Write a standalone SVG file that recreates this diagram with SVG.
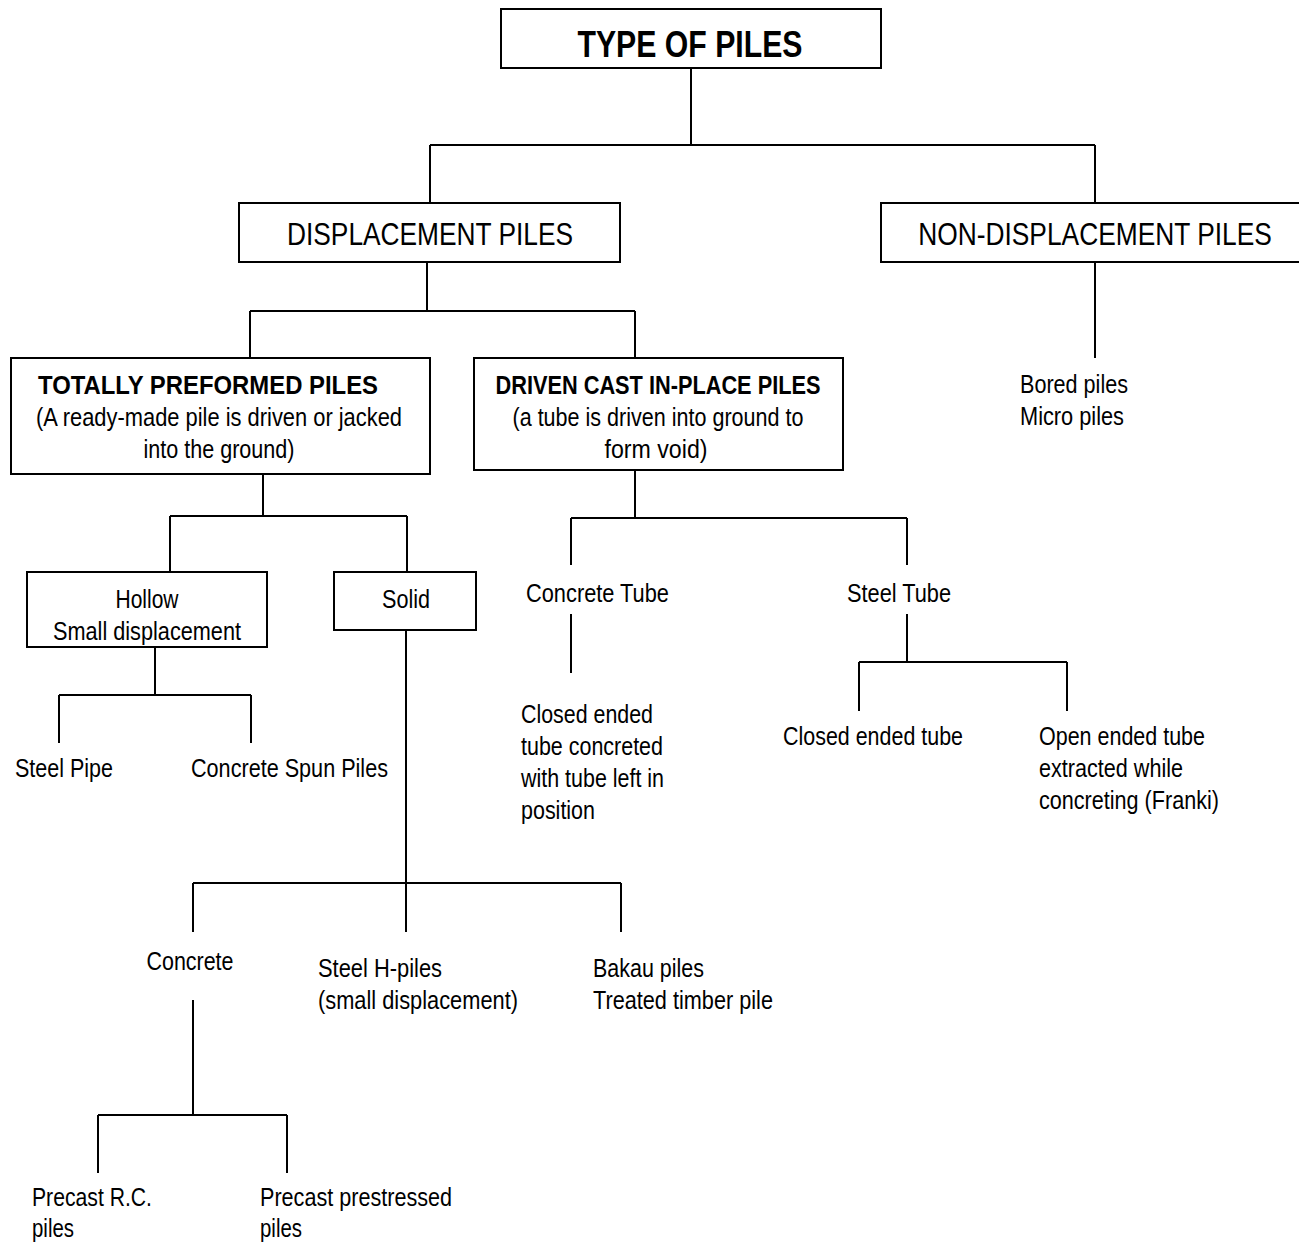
<svg xmlns="http://www.w3.org/2000/svg" width="1299" height="1248" viewBox="0 0 1299 1248">
<style>
.box{fill:#fff;stroke:#000;stroke-width:2}
.ln{stroke:#000;stroke-width:2;fill:none}
text{font-family:"Liberation Sans",Arial,sans-serif;fill:#000}
.t{font-size:25px}
.h{font-size:31px}
.b{font-size:25px;font-weight:bold}
.c{text-anchor:middle}
</style>
<rect width="1299" height="1248" fill="#fff"/>
<g id="connectors">
<path class="ln" d="M691 68V145M430 145H1095M430 145V203M1095 145V203"/>
<path class="ln" d="M427 262V311M250 311H635M250 311V358M635 311V358"/>
<path class="ln" d="M1095 262V358"/>
<path class="ln" d="M263 474V516M170 516H407M170 516V572M407 516V572"/>
<path class="ln" d="M155 647V695M59 695H251M59 695V743M251 695V743"/>
<path class="ln" d="M406 630V883M193 883H621M193 883V932M406 883V932M621 883V932"/>
<path class="ln" d="M193 1000V1115M98 1115H287M98 1115V1173M287 1115V1173"/>
<path class="ln" d="M635 470V518M571 518H907M571 518V565M907 518V565"/>
<path class="ln" d="M571 614V673"/>
<path class="ln" d="M907 614V662M859 662H1067M859 662V711M1067 662V711"/>
</g>
<g id="type-of-piles"><rect class="box" x="501" y="9" width="380" height="59"/><text class="c" x="690" y="57" style="font-size:37px;font-weight:bold" textLength="225" lengthAdjust="spacingAndGlyphs">TYPE OF PILES</text></g>
<g id="displacement"><rect class="box" x="239" y="203" width="381" height="59"/><text class="h c" x="430" y="245" textLength="286" lengthAdjust="spacingAndGlyphs">DISPLACEMENT PILES</text></g>
<g id="non-displacement"><rect class="box" x="881" y="203" width="440" height="59"/><text class="h c" transform="translate(1095,245) scale(0.85,1)" x="0" y="0">NON-DISPLACEMENT PILES</text></g>
<g id="totally-preformed"><rect class="box" x="11" y="358" width="419" height="116"/>
<text class="b c" x="208" y="394" textLength="340" lengthAdjust="spacingAndGlyphs">TOTALLY PREFORMED PILES</text>
<text class="t c" x="219" y="426" textLength="366" lengthAdjust="spacingAndGlyphs">(A ready-made pile is driven or jacked</text>
<text class="t c" x="219" y="458" textLength="151" lengthAdjust="spacingAndGlyphs">into the ground)</text></g>
<g id="driven-cast"><rect class="box" x="474" y="358" width="369" height="112"/>
<text class="b c" x="658" y="394" textLength="325" lengthAdjust="spacingAndGlyphs">DRIVEN CAST IN-PLACE PILES</text>
<text class="t c" x="658" y="426" textLength="291" lengthAdjust="spacingAndGlyphs">(a tube is driven into ground to</text>
<text class="t c" x="656" y="458" textLength="103" lengthAdjust="spacingAndGlyphs">form void)</text></g>
<g id="bored"><text class="t" x="1020" y="393" textLength="108" lengthAdjust="spacingAndGlyphs">Bored piles</text><text class="t" x="1020" y="425" textLength="104" lengthAdjust="spacingAndGlyphs">Micro piles</text></g>
<g id="hollow"><rect class="box" x="27" y="572" width="240" height="75"/>
<text class="t c" x="147" y="608" textLength="63" lengthAdjust="spacingAndGlyphs">Hollow</text><text class="t c" x="147" y="640" textLength="188" lengthAdjust="spacingAndGlyphs">Small displacement</text></g>
<g id="solid"><rect class="box" x="334" y="572" width="142" height="58"/><text class="t c" x="406" y="608" textLength="48" lengthAdjust="spacingAndGlyphs">Solid</text></g>
<g id="steel-pipe"><text class="t" x="15" y="777" textLength="98" lengthAdjust="spacingAndGlyphs">Steel Pipe</text></g>
<g id="concrete-spun"><text class="t" x="191" y="777" textLength="197" lengthAdjust="spacingAndGlyphs">Concrete Spun Piles</text></g>
<g id="concrete-tube"><text class="t" x="526" y="602" textLength="143" lengthAdjust="spacingAndGlyphs">Concrete Tube</text></g>
<g id="steel-tube"><text class="t" x="847" y="602" textLength="104" lengthAdjust="spacingAndGlyphs">Steel Tube</text></g>
<g id="closed-ended-concrete"><text class="t" x="521" y="723" textLength="132" lengthAdjust="spacingAndGlyphs">Closed ended</text><text class="t" x="521" y="755" textLength="142" lengthAdjust="spacingAndGlyphs">tube concreted</text><text class="t" x="521" y="787" textLength="143" lengthAdjust="spacingAndGlyphs">with tube left in</text><text class="t" x="521" y="819" textLength="74" lengthAdjust="spacingAndGlyphs">position</text></g>
<g id="closed-ended-tube"><text class="t" x="783" y="745" textLength="180" lengthAdjust="spacingAndGlyphs">Closed ended tube</text></g>
<g id="open-ended-tube"><text class="t" x="1039" y="745" textLength="166" lengthAdjust="spacingAndGlyphs">Open ended tube</text><text class="t" x="1039" y="777" textLength="144" lengthAdjust="spacingAndGlyphs">extracted while</text><text class="t" x="1039" y="809" textLength="180" lengthAdjust="spacingAndGlyphs">concreting (Franki)</text></g>
<g id="concrete"><text class="t c" x="190" y="970" textLength="87" lengthAdjust="spacingAndGlyphs">Concrete</text></g>
<g id="steel-h"><text class="t" x="318" y="977" textLength="124" lengthAdjust="spacingAndGlyphs">Steel H-piles</text><text class="t" x="318" y="1009" textLength="200" lengthAdjust="spacingAndGlyphs">(small displacement)</text></g>
<g id="bakau"><text class="t" x="593" y="977" textLength="111" lengthAdjust="spacingAndGlyphs">Bakau piles</text><text class="t" x="593" y="1009" textLength="180" lengthAdjust="spacingAndGlyphs">Treated timber pile</text></g>
<g id="precast-rc"><text class="t" x="32" y="1206" textLength="120" lengthAdjust="spacingAndGlyphs">Precast R.C.</text><text class="t" x="32" y="1237" textLength="42" lengthAdjust="spacingAndGlyphs">piles</text></g>
<g id="precast-prestressed"><text class="t" x="260" y="1206" textLength="192" lengthAdjust="spacingAndGlyphs">Precast prestressed</text><text class="t" x="260" y="1237" textLength="42" lengthAdjust="spacingAndGlyphs">piles</text></g>
</svg>
